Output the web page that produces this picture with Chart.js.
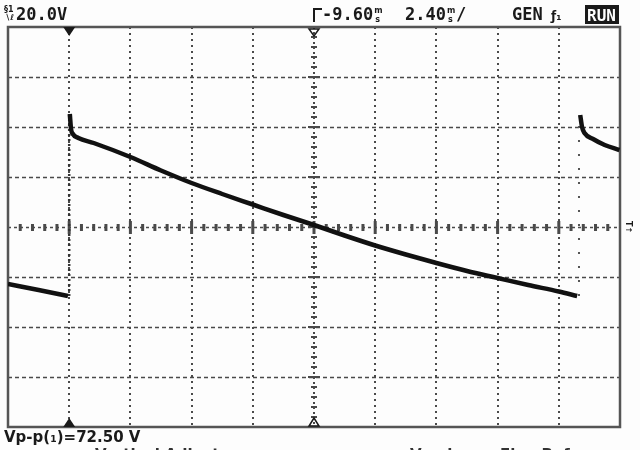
<!DOCTYPE html>
<html>
<head>
<meta charset="utf-8">
<script src="https://cdn.jsdelivr.net/npm/chart.js@4.4.0/dist/chart.umd.min.js"></script>
<style>
  html, body { margin: 0; padding: 0; background: #fdfdfd; }
  #wrap { position: relative; width: 640px; height: 450px; overflow: hidden; }
</style>
</head>
<body>
<div id="wrap"><canvas id="scope"></canvas></div>
<script>
// trace in graticule divisions (x: 0..10, y: -4..4)
const leftX = [0.0, 0.5, 0.98];
const leftY = [-1.14, -1.26, -1.38];

const mainX = [1.01, 1.03, 1.06, 1.15, 1.4, 2.0, 2.5, 3.0, 3.5, 4.0, 4.5, 5.0, 5.5, 6.0, 6.5, 7.0, 7.5, 8.0, 8.5, 9.0, 9.3];
const mainY = [2.26, 1.96, 1.86, 1.78, 1.68, 1.40, 1.13, 0.88, 0.66, 0.45, 0.24, 0.04, -0.17, -0.37, -0.55, -0.72, -0.88, -1.02, -1.16, -1.29, -1.38];

const rightX = [9.35, 9.38, 9.42, 9.56, 9.75, 9.99];
const rightY = [2.24, 2.0, 1.88, 1.76, 1.64, 1.54];

// fast edges drawn as dots
const edge1X = [1.0, 1.0];
const edge1Y = [-1.38, 2.26];
const edge2X = [9.33, 9.33];
const edge2Y = [-1.38, 2.2];

const xDivs = [0, 1, 2, 3, 4, 5, 6, 7, 8, 9, 10];
const yDivs = [-4, -3, -2, -1, 0, 1, 2, 3, 4];

const readout = {
  volts: '20.0V',
  delay: '-9.60',
  timebase: '2.40',
  mode: 'GEN',
  state: 'RUN',
  vpp: 'Vp-p(\u2081)=72.50 V'
};

const pts = (xs, ys) => xs.map((x, i) => ({ x: x, y: ys[i] }));

const graticule = {
  id: 'graticule',
  beforeDatasetsDraw(chart) {
    const { ctx, chartArea: a, scales: { x, y } } = chart;
    ctx.save();
    ctx.strokeStyle = '#4a4a4a';
    // horizontal dashed lines
    ctx.lineWidth = 1.5;
    ctx.setLineDash([4, 3]);
    yDivs.forEach(v => {
      if (v === 0 || v === 4 || v === -4) return;
      const py = Math.round(y.getPixelForValue(v)) + 0.5;
      ctx.beginPath(); ctx.moveTo(a.left, py); ctx.lineTo(a.right, py); ctx.stroke();
    });
    // vertical dotted lines
    ctx.lineWidth = 2;
    ctx.setLineDash([2, 4]);
    xDivs.forEach(v => {
      if (v === 0 || v === 5 || v === 10) return;
      const px = Math.round(x.getPixelForValue(v));
      ctx.beginPath(); ctx.moveTo(px, a.top); ctx.lineTo(px, a.bottom); ctx.stroke();
    });
    ctx.setLineDash([]);
    // centre horizontal: dashes with minor ticks
    const cy = Math.round(y.getPixelForValue(0));
    const stepX = (x.getPixelForValue(1) - x.getPixelForValue(0)) / 5;
    ctx.lineWidth = 1.5;
    ctx.setLineDash([3, 3]);
    ctx.beginPath(); ctx.moveTo(a.left, cy + 0.5); ctx.lineTo(a.right, cy + 0.5); ctx.stroke();
    ctx.setLineDash([]);
    ctx.fillStyle = '#4a4a4a';
    for (let i = 1; i < 50; i++) {
      const px = a.left + i * stepX;
      const major = i % 5 === 0;
      ctx.fillRect(px - 1.5, cy - (major ? 6 : 3), 3, major ? 13 : 7);
    }
    // centre vertical: dots with minor ticks
    const cx = Math.round(x.getPixelForValue(5));
    const stepY = (y.getPixelForValue(0) - y.getPixelForValue(1)) / 5;
    ctx.lineWidth = 2;
    ctx.setLineDash([2, 3]);
    ctx.beginPath(); ctx.moveTo(cx, a.top); ctx.lineTo(cx, a.bottom); ctx.stroke();
    ctx.setLineDash([]);
    for (let i = 1; i < 40; i++) {
      const py = a.top + i * stepY;
      const major = i % 5 === 0;
      ctx.fillRect(cx - (major ? 6 : 3), py - 1, major ? 12 : 6, 2);
    }
    // frame
    ctx.strokeStyle = '#555';
    ctx.lineWidth = 2.5;
    ctx.strokeRect(a.left, a.top, a.right - a.left, a.bottom - a.top);
    ctx.restore();
  },
  afterDraw(chart) {
    const { ctx, chartArea: a, scales: { x, y } } = chart;
    ctx.save();
    ctx.fillStyle = '#1a1a1a';
    ctx.textBaseline = 'alphabetic';
    const big = 'bold 17px "DejaVu Sans Mono"';
    const tiny = 'bold 8px "DejaVu Sans"';
    // channel icon + volts/div
    ctx.font = tiny;
    ctx.fillText('\u00A71', 4, 12);
    ctx.fillText('\u2216\u2113', 5, 20);
    ctx.font = big;
    ctx.fillText(readout.volts, 16, 20);
    // trigger delay
    const tx = x.getPixelForValue(5);
    ctx.fillRect(tx - 1, 8, 2, 14);
    ctx.fillRect(tx, 8, 8, 2);
    ctx.font = big;
    ctx.fillText(readout.delay, tx + 8, 20);
    let w = ctx.measureText(readout.delay).width;
    ctx.font = tiny;
    ctx.fillText('m', tx + 9 + w, 13);
    ctx.fillText('s', tx + 10 + w, 22);
    // timebase
    ctx.font = big;
    ctx.fillText(readout.timebase, 405, 20);
    w = ctx.measureText(readout.timebase).width;
    ctx.font = tiny;
    ctx.fillText('m', 406 + w, 13);
    ctx.fillText('s', 407 + w, 22);
    ctx.font = big;
    ctx.fillText('/', 415 + w, 20);
    // mode
    ctx.fillText(readout.mode, 512, 20);
    ctx.font = 'bold 12px "DejaVu Sans"';
    ctx.fillText('\u0192\u2081', 551, 20);
    ctx.fillRect(585, 5, 34, 19);
    ctx.fillStyle = '#fdfdfd';
    ctx.font = 'bold 16px "DejaVu Sans Mono"';
    ctx.fillText(readout.state, 587, 21);
    // bottom readout
    ctx.fillStyle = '#1a1a1a';
    ctx.font = 'bold 15px "DejaVu Sans"';
    ctx.fillText(readout.vpp, 4, 442);
    ctx.fillStyle = '#333';
    ctx.fillText('Vertical Adjust', 95, 460);
    ctx.fillText('Version', 410, 460);
    ctx.fillText('Fine Ref', 500, 460);
    ctx.fillStyle = '#1a1a1a';
    // position markers
    const mx = x.getPixelForValue(1);
    ctx.beginPath(); ctx.moveTo(mx - 6, a.top); ctx.lineTo(mx + 6, a.top); ctx.lineTo(mx, a.top + 9); ctx.fill();
    ctx.beginPath(); ctx.moveTo(mx - 6, a.bottom); ctx.lineTo(mx + 6, a.bottom); ctx.lineTo(mx, a.bottom - 9); ctx.fill();
    ctx.strokeStyle = '#1a1a1a';
    ctx.lineWidth = 1.5;
    ctx.beginPath(); ctx.moveTo(tx - 5, a.top + 2); ctx.lineTo(tx + 5, a.top + 2); ctx.lineTo(tx, a.top + 9); ctx.closePath(); ctx.stroke();
    ctx.beginPath(); ctx.moveTo(tx - 5, a.bottom - 1); ctx.lineTo(tx + 5, a.bottom - 1); ctx.lineTo(tx, a.bottom - 9); ctx.closePath(); ctx.stroke();
    // trigger level marker on right edge
    const ly = y.getPixelForValue(0);
    ctx.save();
    ctx.translate(a.right + 9, ly);
    ctx.rotate(Math.PI / 2);
    ctx.font = 'bold 8px "DejaVu Sans"';
    ctx.textAlign = 'center';
    ctx.fillText('T\u2191', 0, 3);
    ctx.restore();
    ctx.restore();
  }
};

const trace = { showLine: true, borderColor: '#111', borderWidth: 4.5, pointRadius: 0, cubicInterpolationMode: 'monotone' };

new Chart(document.getElementById('scope').getContext('2d'), {
  type: 'scatter',
  data: {
    datasets: [
      Object.assign({ data: pts(leftX, leftY) }, trace),
      Object.assign({ data: pts(mainX, mainY) }, trace),
      Object.assign({ data: pts(rightX, rightY) }, trace),
      { data: pts(edge1X, edge1Y), showLine: true, borderColor: '#333', borderWidth: 2.5, borderDash: [2, 3], pointRadius: 0 },
      { data: pts(edge2X, edge2Y), showLine: true, borderColor: '#555', borderWidth: 2, borderDash: [2, 12], pointRadius: 0 }
    ]
  },
  options: {
    responsive: true,
    maintainAspectRatio: false,
    animation: false,
    layout: { padding: { left: 8, right: 20, top: 27, bottom: 23 } },
    plugins: { legend: { display: false }, tooltip: { enabled: false } },
    scales: {
      x: { type: 'linear', min: 0, max: 10, display: false },
      y: { type: 'linear', min: -4, max: 4, display: false }
    }
  },
  plugins: [graticule]
});
</script>
</body>
</html>
